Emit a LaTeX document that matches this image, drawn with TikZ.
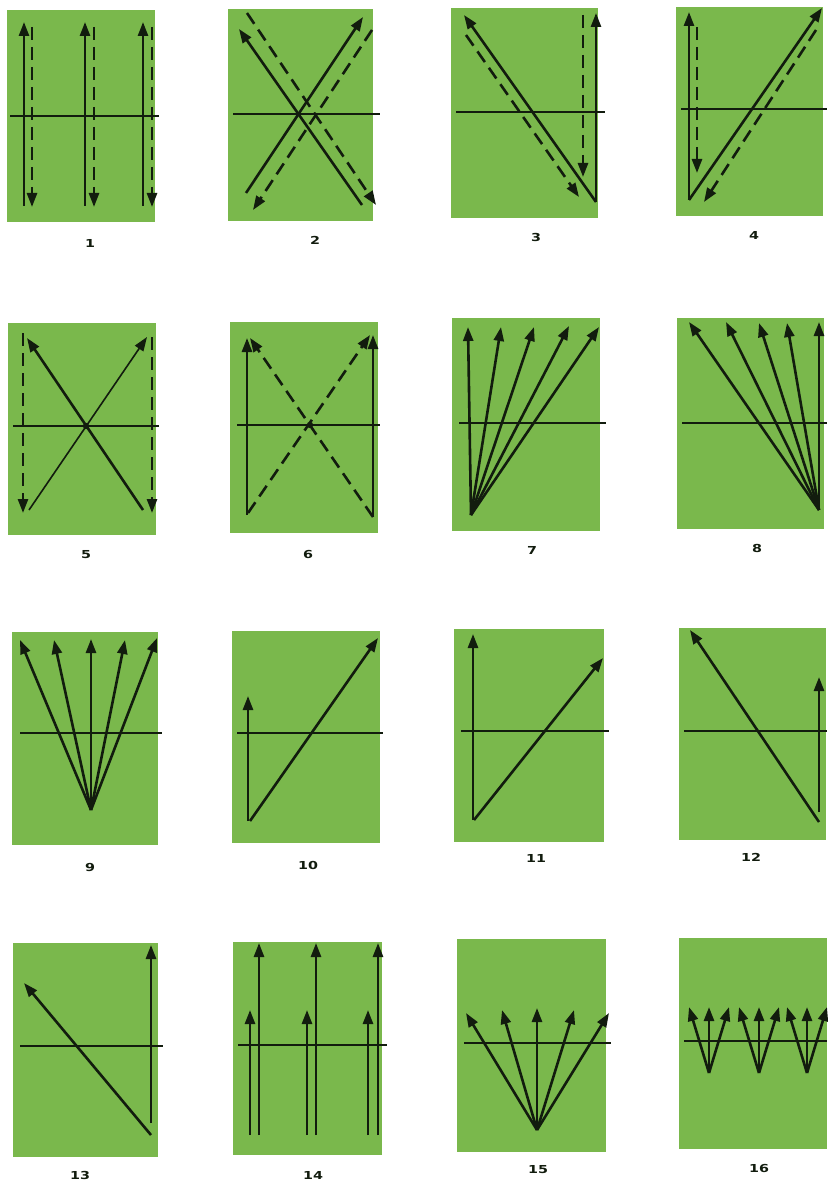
\documentclass[tikz,border=0pt]{standalone}
\usepackage{fontspec}
\setsansfont{DejaVu Sans}
\usetikzlibrary{arrows.meta}
\definecolor{panelgreen}{RGB}{122,184,76}
\definecolor{ink}{RGB}{18,28,14}
\tikzset{
  panel/.style={fill=panelgreen},
  axis/.style={draw=ink,line width=1.8pt},
  arr/.style={draw=ink,line width=2.6pt,-{Triangle[length=14pt,width=10pt]}},
  thinarr/.style={draw=ink,line width=1.6pt,-{Triangle[length=14pt,width=10pt]}},
  darr/.style={arr,dash pattern=on 13pt off 7pt},
  lbl/.style={font=\sffamily\bfseries\fontsize{11}{12}\selectfont,text=ink,inner sep=0pt,xscale=1.3},
  junct/.style={fill=ink}
}
\begin{document}
\begin{tikzpicture}[x=1pt,y=-1pt]
\useasboundingbox (0,0) rectangle (827,1182);
\fill[white] (0,0) rectangle (827,1182);
% panels
\fill[panel] (7,10) rectangle (155,222);
\fill[panel] (228,9) rectangle (373,221);
\fill[panel] (451,8) rectangle (598,218);
\fill[panel] (676,7) rectangle (823,216);
\fill[panel] (8,323) rectangle (156,535);
\fill[panel] (230,322) rectangle (378,533);
\fill[panel] (452,318) rectangle (600,531);
\fill[panel] (677,318) rectangle (824,529);
\fill[panel] (12,632) rectangle (158,845);
\fill[panel] (232,631) rectangle (380,843);
\fill[panel] (454,629) rectangle (604,842);
\fill[panel] (679,628) rectangle (826,840);
\fill[panel] (13,943) rectangle (158,1157);
\fill[panel] (233,942) rectangle (382,1155);
\fill[panel] (457,939) rectangle (606,1152);
\fill[panel] (679,938) rectangle (827,1149);
% axes
\draw[axis] (10,116) -- (159,116);
\draw[axis] (233,114) -- (380,114);
\draw[axis] (456,112) -- (605,112);
\draw[axis] (681,109) -- (827,109);
\draw[axis] (13,426) -- (159,426);
\draw[axis] (237,425) -- (380,425);
\draw[axis] (459,423) -- (606,423);
\draw[axis] (682,423) -- (827,423);
\draw[axis] (20,733) -- (162,733);
\draw[axis] (237,733) -- (383,733);
\draw[axis] (461,731) -- (609,731);
\draw[axis] (684,731) -- (827,731);
\draw[axis] (20,1046) -- (163,1046);
\draw[axis] (238,1045) -- (387,1045);
\draw[axis] (464,1043) -- (611,1043);
\draw[axis] (684,1041) -- (827,1041);
% 1
\foreach \x in {24,85,143} \draw[arr] (\x,206) -- (\x,22);
\foreach \x in {32,94,152} \draw[darr] (\x,27) -- (\x,207);
% 2
\draw[arr] (362,205) -- (239,29);
\draw[darr] (247,13) -- (376,205);
\draw[arr] (246,193) -- (363,17);
\draw[darr] (372,30) -- (253,210);
% 3
\draw[arr] (596,202) -- (464,15);
\draw[arr] (596,202) -- (596,13);
\draw[darr] (466,35) -- (579,197);
\draw[darr] (583,15) -- (583,177);
% 4
\draw[arr] (689,200) -- (689,12);
\draw[arr] (689,200) -- (822,8);
\draw[darr] (697,27) -- (697,173);
\draw[darr] (816,30) -- (704,202);
% 5
\draw[arr] (143,510) -- (27,338);
\draw[thinarr] (29,510) -- (147,337);
\draw[darr] (23,333) -- (23,513);
\draw[darr] (152,337) -- (152,513);
\fill[junct] (86,426) circle (3.2);
% 6
\draw[arr] (247,515) -- (247,338);
\draw[darr] (373,517) -- (250,338);
\draw[darr] (248,513) -- (370,335);
\draw[arr] (373,517) -- (373,335);
\fill[junct] (310,425) circle (3.2);
% 7
\foreach \x/\y in {468/327,501/327,534/327,569/326,599/327} \draw[arr] (471,515) -- (\x,\y);
% 8
\foreach \x/\y in {689/322,726/322,759/323,787/323,819/322} \draw[arr] (819,510) -- (\x,\y);
% 9
\foreach \x/\y in {20/640,54/640,91/639,125/640,157/638} \draw[arr] (91,810) -- (\x,\y);
% 10
\draw[arr] (248,821) -- (248,696);
\draw[arr] (250,821) -- (378,638);
% 11
\draw[arr] (473,820) -- (473,634);
\draw[arr] (474,820) -- (603,658);
% 12
\draw[arr] (819,822) -- (690,630);
\draw[arr] (819,812) -- (819,677);
% 13
\draw[arr] (151,1135) -- (24,983);
\draw[arr] (151,1123) -- (151,945);
% 14
\foreach \x in {250,307,368} \draw[arr] (\x,1135) -- (\x,1010);
\foreach \x in {259,316,378} \draw[arr] (\x,1135) -- (\x,943);
% 15
\foreach \x/\y in {466/1013,502/1010,537/1008,574/1010,609/1013} \draw[arr] (537,1130) -- (\x,\y);
% 16
\foreach \b in {709,759,807} {
  \foreach \d in {-20,0,20} \draw[arr] (\b,1073) -- (\b+\d,1007);
}
% labels
\node[lbl] (l1) at (90,243) {1};
\node[lbl] (l2) at (315,240) {2};
\node[lbl] (l3) at (536,237) {3};
\node[lbl] (l4) at (754,235) {4};
\node[lbl] (l5) at (86,555) {5};
\node[lbl] (l6) at (308,554) {6};
\node[lbl] (l7) at (532,550) {7};
\node[lbl] (l8) at (757,548) {8};
\node[lbl] (l9) at (90,867) {9};
\node[lbl] (l10) at (308,865) {10};
\node[lbl] (l11) at (536,858) {11};
\node[lbl] (l12) at (751,857) {12};
\node[lbl] (l13) at (80,1175) {13};
\node[lbl] (l14) at (313,1175) {14};
\node[lbl] (l15) at (538,1170) {15};
\node[lbl] (l16) at (759,1168) {16};
\end{tikzpicture}
\end{document}
